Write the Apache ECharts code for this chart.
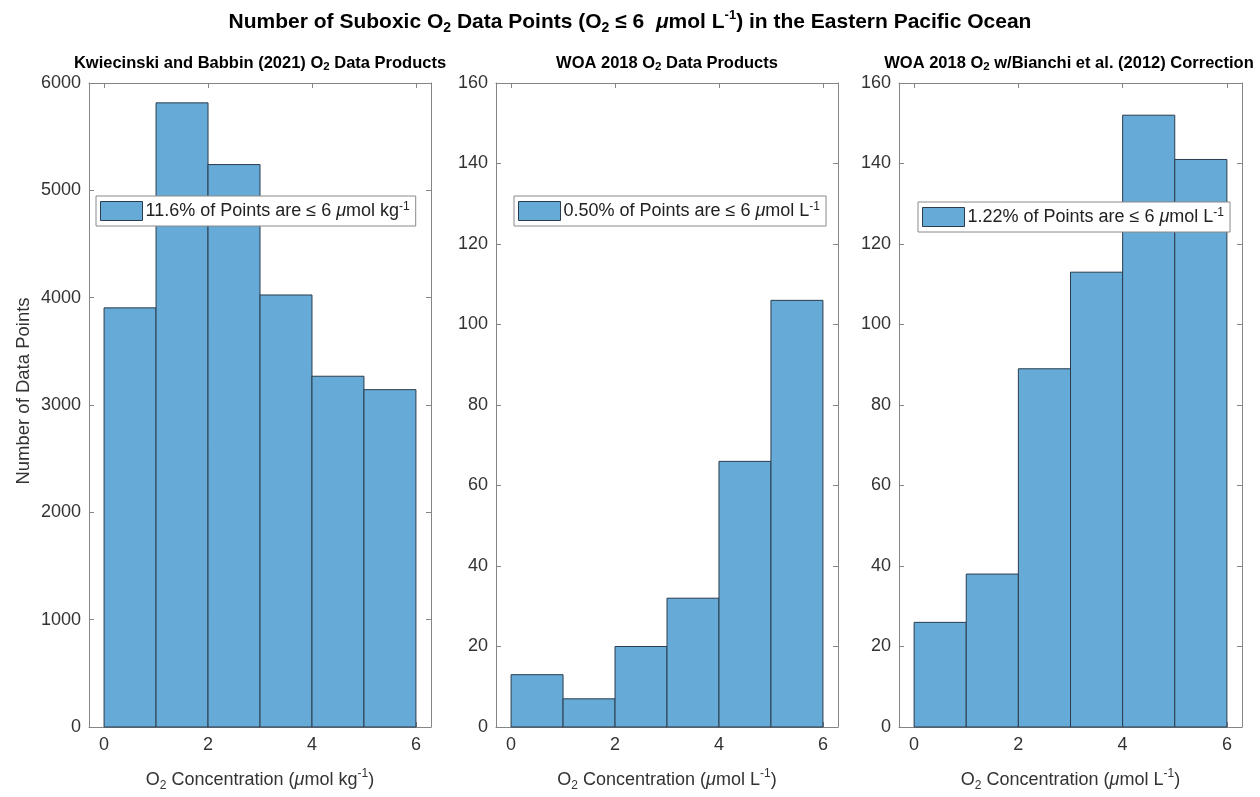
<!DOCTYPE html>
<html><head><meta charset="utf-8">
<script src="https://cdn.jsdelivr.net/npm/echarts@6/dist/echarts.min.js"></script>
<style>html,body{margin:0;padding:0;background:#fff}#c{width:1260px;height:797px}</style>
</head><body><div id="c"></div>
<script>
// ---- data ----
const binEdges = [0, 1, 2, 3, 4, 5, 6];
const kbCounts = [3905, 5815, 5240, 4025, 3268, 3143];
const woaCounts = [13, 7, 20, 32, 66, 106];
const bianchiCounts = [26, 38, 89, 113, 152, 141];
const xTickValues = [0, 2, 4, 6];
const yMaxValues = [6000, 160, 160];
const yIntervals = [1000, 20, 20];
const legendNames = ['11.6% of Points (kg)', '0.50% of Points (L)', '1.22% of Points (L)'];
const legendRich = [
  '{n|11.6% of Points are ≤ 6 }{i|μ}{n|mol kg}{p|-1}',
  '{n|0.50% of Points are ≤ 6 }{i|μ}{n|mol L}{p|-1}',
  '{n|1.22% of Points are ≤ 6 }{i|μ}{n|mol L}{p|-1}'
];
const panelTitles = [
  '{b|Kwiecinski and Babbin (2021) O}{s|2}{b| Data Products}',
  '{b|WOA 2018 O}{s|2}{b| Data Products}',
  '{b|WOA 2018 O}{s|2}{b| w/Bianchi et al. (2012) Correction}'
];
const xNames = [
  '{n|O}{s|2}{n| Concentration (}{i|μ}{n|mol kg}{p|-1}{n|)}',
  '{n|O}{s|2}{n| Concentration (}{i|μ}{n|mol L}{p|-1}{n|)}',
  '{n|O}{s|2}{n| Concentration (}{i|μ}{n|mol L}{p|-1}{n|)}'
];
const mainTitle = '{b|Number of Suboxic O}{s|2}{b| Data Points (O}{s|2}{b| ≤ 6  }{bi|μ}{b|mol L}{p|-1}{b|) in the Eastern Pacific Ocean}';
const yName = 'Number of Data Points';
const allCounts = [kbCounts, woaCounts, bianchiCounts];

// ---- layout / style ----
const grids = [
  {left: 89, top: 83, width: 342, height: 644},
  {left: 496, top: 83, width: 342, height: 644},
  {left: 899, top: 83, width: 343, height: 644}
];
const legendPos = [{left: 96, top: 196}, {left: 514, top: 196}, {left: 918, top: 202}];
const FILL = '#66aad7', EDGE = '#2b3c4d', LINE = '#858585', TXT = '#333333';
const FONT = 'Liberation Sans, Arial, sans-serif';

const textRich = {
  n: {fontSize: 18, lineHeight: 24, color: TXT, fontFamily: FONT},
  i: {fontSize: 18, lineHeight: 24, color: TXT, fontFamily: FONT, fontStyle: 'italic'},
  s: {fontSize: 12, lineHeight: 4, color: TXT, fontFamily: FONT, verticalAlign: 'bottom'},
  p: {fontSize: 12, lineHeight: 16, color: TXT, fontFamily: FONT, verticalAlign: 'top'}
};
const legRich = {
  n: {fontSize: 18, lineHeight: 20, color: '#222', fontFamily: FONT},
  i: {fontSize: 18, lineHeight: 20, color: '#222', fontFamily: FONT, fontStyle: 'italic'},
  p: {fontSize: 12, lineHeight: 13, color: '#222', fontFamily: FONT, verticalAlign: 'top'}
};
const titleRich = {
  b: {fontSize: 16.5, lineHeight: 20, fontWeight: 'bold', color: '#000', fontFamily: FONT},
  s: {fontSize: 11.5, lineHeight: 4, fontWeight: 'bold', color: '#000', fontFamily: FONT, verticalAlign: 'bottom'}
};
const mainRich = {
  b: {fontSize: 21, lineHeight: 26, fontWeight: 'bold', color: '#000', fontFamily: FONT},
  bi: {fontSize: 21, lineHeight: 26, fontWeight: 'bold', fontStyle: 'italic', color: '#000', fontFamily: FONT},
  s: {fontSize: 14, lineHeight: 4, fontWeight: 'bold', color: '#000', fontFamily: FONT, verticalAlign: 'bottom'},
  p: {fontSize: 13, lineHeight: 17, fontWeight: 'bold', color: '#000', fontFamily: FONT, verticalAlign: 'top'}
};

const xAxes = [], yAxes = [], series = [], legends = [];
grids.forEach((g, k) => {
  const base = {
    type: 'value', gridIndex: k, min: -0.29, max: 6.29,
    splitLine: {show: false},
    axisLine: {show: true, onZero: false, lineStyle: {color: LINE, width: 1}},
    axisTick: {show: true, inside: true, length: 5, customValues: xTickValues, lineStyle: {color: LINE}}
  };
  xAxes.push(Object.assign({}, base, {
    position: 'bottom',
    axisLabel: {show: true, customValues: xTickValues, fontSize: 18, color: TXT, margin: 9, fontFamily: FONT},
    name: xNames[k], nameLocation: 'middle', nameGap: 41,
    nameTextStyle: {rich: textRich}
  }));
  xAxes.push(Object.assign({}, base, {position: 'top', axisLabel: {show: false}}));
  const ybase = {
    type: 'value', gridIndex: k, min: 0, max: yMaxValues[k], interval: yIntervals[k],
    splitLine: {show: false},
    axisLine: {show: true, onZero: false, lineStyle: {color: LINE, width: 1}},
    axisTick: {show: true, inside: true, length: 5, lineStyle: {color: LINE}}
  };
  const yl = Object.assign({}, ybase, {
    position: 'left',
    axisLabel: {show: true, fontSize: 18, color: TXT, margin: 8, fontFamily: FONT, formatter: v => String(v)}
  });
  if (k === 0) {
    yl.name = yName; yl.nameLocation = 'middle'; yl.nameGap = 56;
    yl.nameTextStyle = {fontSize: 18.5, color: TXT, fontFamily: FONT, padding: [0, 0, 0, 28]};
  }
  yAxes.push(yl);
  yAxes.push(Object.assign({}, ybase, {position: 'right', axisLabel: {show: false}}));

  const data = allCounts[k].map((c, j) => [binEdges[j], binEdges[j + 1], c]);
  series.push({
    type: 'custom', name: legendNames[k],
    xAxisIndex: 2 * k, yAxisIndex: 2 * k,
    itemStyle: {color: FILL, borderColor: EDGE, borderWidth: 1},
    encode: {x: [0, 1], y: 2},
    data: data,
    renderItem: function (params, api) {
      const p0 = api.coord([api.value(0), api.value(2)]);
      const p1 = api.coord([api.value(1), 0]);
      return {
        type: 'rect',
        shape: {x: p0[0], y: p0[1], width: p1[0] - p0[0], height: p1[1] - p0[1]},
        style: {fill: FILL, stroke: EDGE, lineWidth: 1}
      };
    }
  });
  legends.push({
    data: [legendNames[k]], left: legendPos[k].left, top: legendPos[k].top,
    selectedMode: false, icon: 'rect', itemWidth: 42, itemHeight: 19,
    padding: [5, 6, 5, 4], borderColor: '#8a8a8a', borderWidth: 1, backgroundColor: '#fff',
    itemStyle: {color: FILL, borderColor: EDGE, borderWidth: 1},
    textStyle: {rich: legRich, padding: [0, 0, 0, -2]},
    formatter: () => legendRich[k]
  });
});

const graphics = [
  {type: 'text', x: 630, y: 22, style: {text: mainTitle, rich: mainRich, align: 'center', verticalAlign: 'middle'}},
  {type: 'text', x: 260, y: 63, style: {text: panelTitles[0], rich: titleRich, align: 'center', verticalAlign: 'middle'}},
  {type: 'text', x: 667, y: 63, style: {text: panelTitles[1], rich: titleRich, align: 'center', verticalAlign: 'middle'}},
  {type: 'text', x: 1069, y: 63, style: {text: panelTitles[2], rich: titleRich, align: 'center', verticalAlign: 'middle'}}
];

const chart = echarts.init(document.getElementById('c'), null, {renderer: 'canvas'});
chart.setOption({
  animation: false,
  backgroundColor: '#fff',
  grid: grids.map(g => Object.assign({containLabel: false}, g)),
  xAxis: xAxes, yAxis: yAxes, series: series, legend: legends, graphic: graphics
});
</script></body></html>
